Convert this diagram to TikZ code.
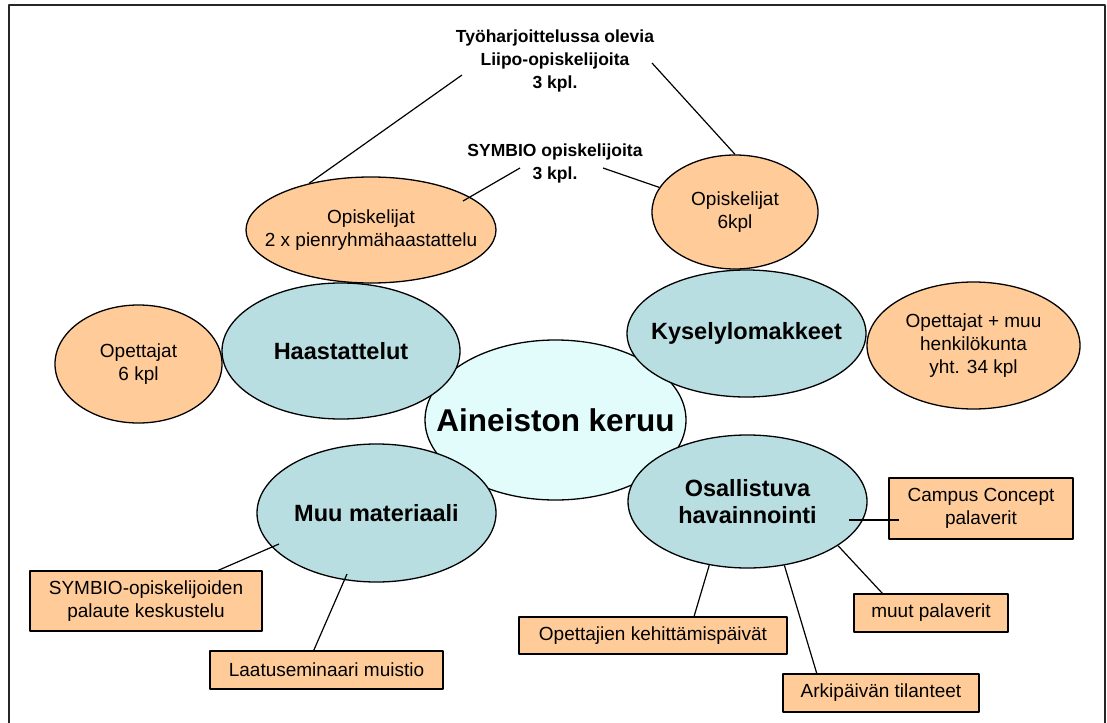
\documentclass[tikz,border=0pt]{standalone}
\usepackage{fontspec}
\setmainfont{Liberation Sans}
\usetikzlibrary{shapes.geometric}

\definecolor{peach}{RGB}{255,204,153}
\definecolor{lagoon}{RGB}{184,222,225}
\definecolor{icecyan}{RGB}{226,252,252}

\begin{document}
\begin{tikzpicture}[x=1pt,y=-1pt,line join=round,
  peachball/.style={draw,ellipse,fill=peach,line width=1.3pt,inner xsep=-60pt,inner ysep=0pt,align=center,
    font=\fontsize{19}{23.3}\selectfont},
  lagoonball/.style={draw,ellipse,fill=lagoon,line width=1.3pt,inner xsep=-60pt,inner ysep=0pt,align=center,
    font=\fontsize{23.5}{27}\selectfont\bfseries},
  notebox/.style={draw,rectangle,fill=peach,line width=1.3pt,inner sep=0pt,align=center,
    font=\fontsize{19}{23.3}\selectfont},
  headnote/.style={align=center,inner sep=0pt,font=\fontsize{17.5}{23}\selectfont\bfseries},
  conn/.style={black,line width=1.2pt}]
  \useasboundingbox (0,0) rectangle (1107,722);
  \draw[line width=1.8pt,black!85] (9,730) -- (9,5) -- (1105,5) -- (1105,730);

  % outer ellipses
  \node (op2x) at (371,230) [peachball,minimum width=250,minimum height=106] {Opiskelijat\\2 x pienryhmähaastattelu};
  \node (op6) at (735,212) [peachball,minimum width=166,minimum height=114] {Opiskelijat\\6kpl};
  \node (ope6) at (138.5,364) [peachball,minimum width=167,minimum height=118] {Opettajat\\6 kpl};
  \node (opmuu) at (973.5,345.5) [peachball,minimum width=213,minimum height=127] {Opettajat + muu\\henkilökunta\\yht. 34 kpl};

  % middle
  \node (keruu) at (555.5,420) [draw,ellipse,fill=icecyan,line width=1.3pt,inner xsep=-60pt,inner ysep=0pt,
    minimum width=261,minimum height=160,font=\fontsize{31.5}{36}\selectfont\bfseries] {Aineiston keruu};

  \node (haast) at (341,351) [lagoonball,minimum width=238,minimum height=136] {Haastattelut};
  \node (kysely) at (746.5,333.5) [lagoonball,minimum width=239,minimum height=127] {Kyselylomakkeet};
  \node (muu) at (376.5,513) [lagoonball,minimum width=239,minimum height=138] {Muu materiaali};
  \node (osal) at (747.5,501.5) [lagoonball,minimum width=239,minimum height=133] {Osallistuva\\havainnointi};

  % boxes
  \node (symbox) at (146,601) [notebox,minimum width=232,minimum height=60] {SYMBIO-opiskelijoiden\\palaute keskustelu};
  \node (laatu) at (326.5,670) [notebox,minimum width=233,minimum height=38] {Laatuseminaari muistio};
  \node (opkeh) at (653,635.5) [notebox,minimum width=268,minimum height=37] {Opettajien kehittämispäivät};
  \node (arki) at (881,693) [notebox,minimum width=196,minimum height=38] {Arkipäivän tilanteet};
  \node (muut) at (931,613) [notebox,minimum width=154,minimum height=38] {muut palaverit};
  \node (campus) at (981,508.5) [notebox,minimum width=184,minimum height=61] {Campus Concept\\palaverit};

  % free texts
  \node (liipo) at (555,61) [headnote] {Työharjoittelussa olevia\\Liipo-opiskelijoita\\3 kpl.};
  \node (symbio) at (555,163) [headnote] {SYMBIO opiskelijoita\\3 kpl.};

  \coordinate (liipoL) at (462,75); % invisible point
  \coordinate (liipoR) at (652,63); % invisible point
  \coordinate (symbioL) at (520,168); % invisible point
  \coordinate (symbioR) at (603,168); % invisible point
  \coordinate (op2xin) at (463,201); % invisible point
  \coordinate (muuA) at (279,544); % invisible point
  \coordinate (muuB) at (347,574); % invisible point
  \coordinate (osalC) at (849,520); % invisible point
  \coordinate (campusC) at (899,520); % invisible point

  \draw[conn] (liipoL) to (op2x.143);
  \draw[conn] (liipoR) to (op6.north);
  \draw[conn] (symbioL) to (op2xin);
  \draw[conn] (symbioR) to (op6.162);

  \draw[conn] (muuA) to (symbox.23.5);
  \draw[conn] (muuB) to (laatu.123);
  \draw[conn] (osal.239) to (opkeh.25.4);
  \draw[conn] (osal.300) to (arki.163.2);
  \draw[conn] (osal.334.6) to (muut.158.4);
  \draw[conn] (osalC) to (campusC);
\end{tikzpicture}
\end{document}
